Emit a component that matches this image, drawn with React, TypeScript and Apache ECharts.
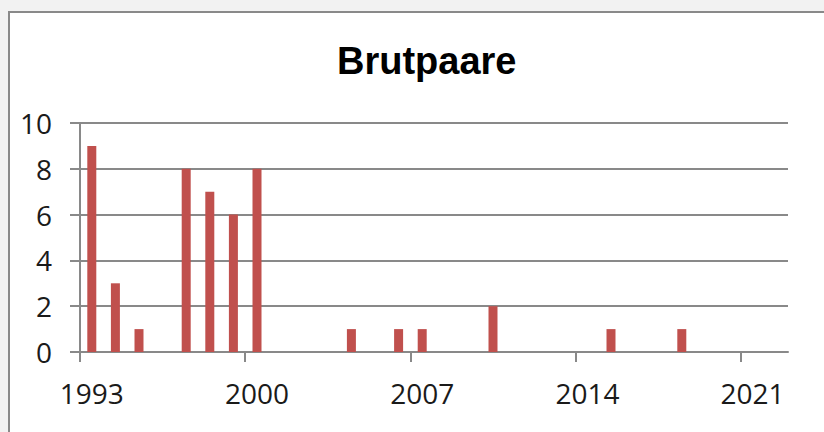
import React, { useEffect, useRef } from "react";
import * as echarts from "echarts";

const years: string[] = [];
for (let y = 1993; y <= 2022; y++) years.push(String(y));

const pairYears = ["1993", "1994", "1995", "1997", "1998", "1999", "2000", "2004", "2006", "2007", "2010", "2015", "2018"];
const pairValues = [9, 3, 1, 8, 7, 6, 8, 1, 1, 1, 2, 1, 1];

const yTicks = { min: 0, max: 10, interval: 2 };
const titleText = "Brutpaare";
const labelStep = 7;

export default function App() {
  const ref = useRef<HTMLDivElement>(null);
  useEffect(() => {
    if (!ref.current) return;
    const chart = echarts.init(ref.current, undefined, { renderer: "svg" });
    const data = years.map((y) => {
      const i = pairYears.indexOf(y);
      return i >= 0 ? pairValues[i] : null;
    });
    // category boundaries (one more than the number of years), for the ticks between years
    const boundaries = [...years.map((y) => "b" + y), "bend"];
    const grey = "#898989";
    chart.setOption({
      animation: false,
      backgroundColor: "#f2f2f2",
      graphic: [
        {
          type: "rect",
          z: -10,
          silent: true,
          shape: { x: 9, y: 12, width: 840, height: 440 },
          style: { fill: "#ffffff", stroke: grey, lineWidth: 2 },
        },
      ],
      title: {
        text: titleText,
        left: 332,
        top: 37,
        textStyle: { fontFamily: "Liberation Sans", fontWeight: "bold", fontSize: 38, color: "#000" },
      },
      grid: { left: 80, right: 36, top: 123, bottom: 80, containLabel: false },
      xAxis: [
        {
          type: "category",
          data: years,
          boundaryGap: true,
          axisLine: { show: true, lineStyle: { color: grey, width: 2 } },
          axisTick: { show: false },
          axisLabel: { interval: labelStep - 1, margin: 27, fontFamily: "Open Sans", fontSize: 28, color: "#1a1a1a" },
          splitLine: { show: false },
        },
        {
          type: "category",
          data: boundaries,
          boundaryGap: false,
          position: "bottom",
          axisLine: { show: false },
          axisTick: {
            show: true,
            length: 10,
            interval: (i: number) => i % labelStep === 0,
            lineStyle: { color: grey, width: 2 },
          },
          axisLabel: { show: false },
          splitLine: { show: false },
        },
      ],
      yAxis: {
        type: "value",
        min: yTicks.min,
        max: yTicks.max,
        interval: yTicks.interval,
        axisLine: { show: true, lineStyle: { color: grey, width: 2 } },
        axisTick: { show: true, length: 10, lineStyle: { color: grey, width: 2 } },
        axisLabel: { margin: 28, fontFamily: "Open Sans", fontSize: 28, color: "#1a1a1a" },
        splitLine: { show: true, lineStyle: { color: grey, width: 2 } },
      },
      series: [
        {
          type: "bar",
          data,
          xAxisIndex: 0,
          barWidth: 9,
          itemStyle: { color: "#c0504d" },
        },
      ],
    });
    return () => chart.dispose();
  }, []);
  return (
    <div
      ref={ref}
      style={{ position: "fixed", left: 0, top: 0, width: 824, height: 432 }}
    />
  );
}
